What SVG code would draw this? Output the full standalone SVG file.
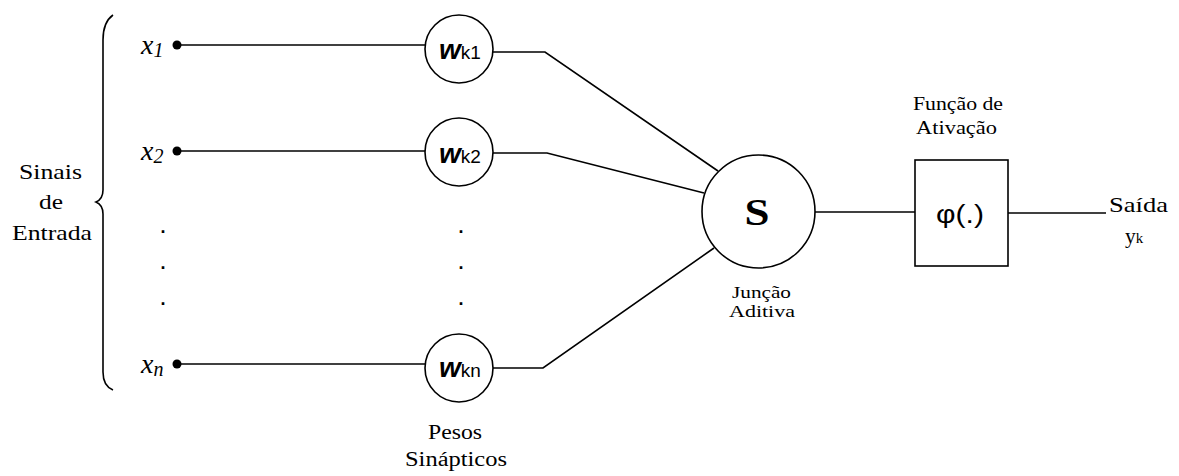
<svg xmlns="http://www.w3.org/2000/svg" width="1179" height="476" viewBox="0 0 1179 476">
<style>
.ln{fill:none;stroke:#000;stroke-width:1.6}
.nd{fill:#fff;stroke:#000;stroke-width:1.6}
text{fill:#000}
</style>
<rect width="1179" height="476" fill="#fff"/>
<g id="connectors">
<path class="ln" d="M177,45 H426"/>
<path class="ln" d="M177,151 H426"/>
<path class="ln" d="M177,364 H426"/>
<path class="ln" d="M493,52 H545 L718,171"/>
<path class="ln" d="M493,153 H547 L704,193"/>
<path class="ln" d="M493,368 H543 L714,248"/>
<path class="ln" d="M815,212 H915"/>
<path class="ln" d="M1008,213 H1106"/>
</g>
<g id="brace">
<path class="ln" d="M113,15 Q103,22 103,40 V190 Q103,199 96,202 Q103,205 103,214 V372 Q103,386 113,390"/>
</g>
<g id="labels-input" font-family="'Liberation Serif','Times New Roman',serif" font-size="21.5" text-anchor="middle">
<text x="50.5" y="179" textLength="63" lengthAdjust="spacingAndGlyphs">Sinais</text>
<text x="51" y="209" textLength="24" lengthAdjust="spacingAndGlyphs">de</text>
<text x="52" y="240" textLength="80" lengthAdjust="spacingAndGlyphs">Entrada</text>
</g>
<g id="x1"><circle cx="177" cy="45" r="4.5"/><text font-family="'Liberation Serif','Times New Roman',serif" font-style="italic" x="141" y="54"><tspan font-size="28">x</tspan><tspan font-size="20" dy="3">1</tspan></text></g>
<g id="x2"><circle cx="177" cy="151" r="4.5"/><text font-family="'Liberation Serif','Times New Roman',serif" font-style="italic" x="141" y="160"><tspan font-size="28">x</tspan><tspan font-size="20" dy="3">2</tspan></text></g>
<g id="xn"><circle cx="177" cy="364" r="4.5"/><text font-family="'Liberation Serif','Times New Roman',serif" font-style="italic" x="141" y="373"><tspan font-size="28">x</tspan><tspan font-size="20" dy="3">n</tspan></text></g>
<g id="dots" font-family="'Liberation Sans',Arial,sans-serif" font-size="18" font-weight="bold" text-anchor="middle">
<text x="163" y="233">.</text>
<text x="163" y="269">.</text>
<text x="163" y="305">.</text>
<text x="461" y="233">.</text>
<text x="461" y="269">.</text>
<text x="461" y="305">.</text>
</g>
<g id="wk1"><circle class="nd" cx="459" cy="49" r="34"/><text font-family="'Liberation Sans',Arial,sans-serif" x="439" y="59"><tspan font-size="28" font-weight="bold" font-style="italic">w</tspan><tspan font-size="19">k1</tspan></text></g>
<g id="wk2"><circle class="nd" cx="459" cy="152" r="34"/><text font-family="'Liberation Sans',Arial,sans-serif" x="439" y="163"><tspan font-size="28" font-weight="bold" font-style="italic">w</tspan><tspan font-size="19">k2</tspan></text></g>
<g id="wkn"><circle class="nd" cx="459" cy="368" r="34"/><text font-family="'Liberation Sans',Arial,sans-serif" x="439" y="377"><tspan font-size="28" font-weight="bold" font-style="italic">w</tspan><tspan font-size="19">kn</tspan></text></g>
<g id="pesos" font-family="'Liberation Serif','Times New Roman',serif" font-size="20.5" text-anchor="middle">
<text x="455" y="439" textLength="54" lengthAdjust="spacingAndGlyphs">Pesos</text>
<text x="456" y="466" textLength="102" lengthAdjust="spacingAndGlyphs">Sinápticos</text>
</g>
<g id="sum"><circle class="nd" cx="758.5" cy="211.5" r="56.5"/><text font-family="'Liberation Serif','Times New Roman',serif" x="757" y="225" font-size="38" font-weight="bold" text-anchor="middle" textLength="25" lengthAdjust="spacingAndGlyphs">S</text></g>
<g id="juncao" font-family="'Liberation Serif','Times New Roman',serif" font-size="17.5" text-anchor="middle">
<text x="761.5" y="298" textLength="59" lengthAdjust="spacingAndGlyphs">Junção</text>
<text x="762" y="317" textLength="66" lengthAdjust="spacingAndGlyphs">Aditiva</text>
</g>
<g id="activation"><rect class="nd" x="915" y="160" width="93" height="106"/><text font-family="'Liberation Sans',Arial,sans-serif" x="960" y="223" font-size="26" text-anchor="middle" textLength="48" lengthAdjust="spacingAndGlyphs">φ(.)</text></g>
<g id="funcao" font-family="'Liberation Serif','Times New Roman',serif" font-size="18.5" text-anchor="middle">
<text x="958" y="110" textLength="90" lengthAdjust="spacingAndGlyphs">Função de</text>
<text x="956.5" y="134" textLength="81" lengthAdjust="spacingAndGlyphs">Ativação</text>
</g>
<g id="saida" font-family="'Liberation Serif','Times New Roman',serif">
<text x="1109" y="212" font-size="21.5" textLength="59" lengthAdjust="spacingAndGlyphs">Saída</text>
<text x="1125" y="243" font-size="21.5">y<tspan font-size="15">k</tspan></text>
</g>
</svg>
